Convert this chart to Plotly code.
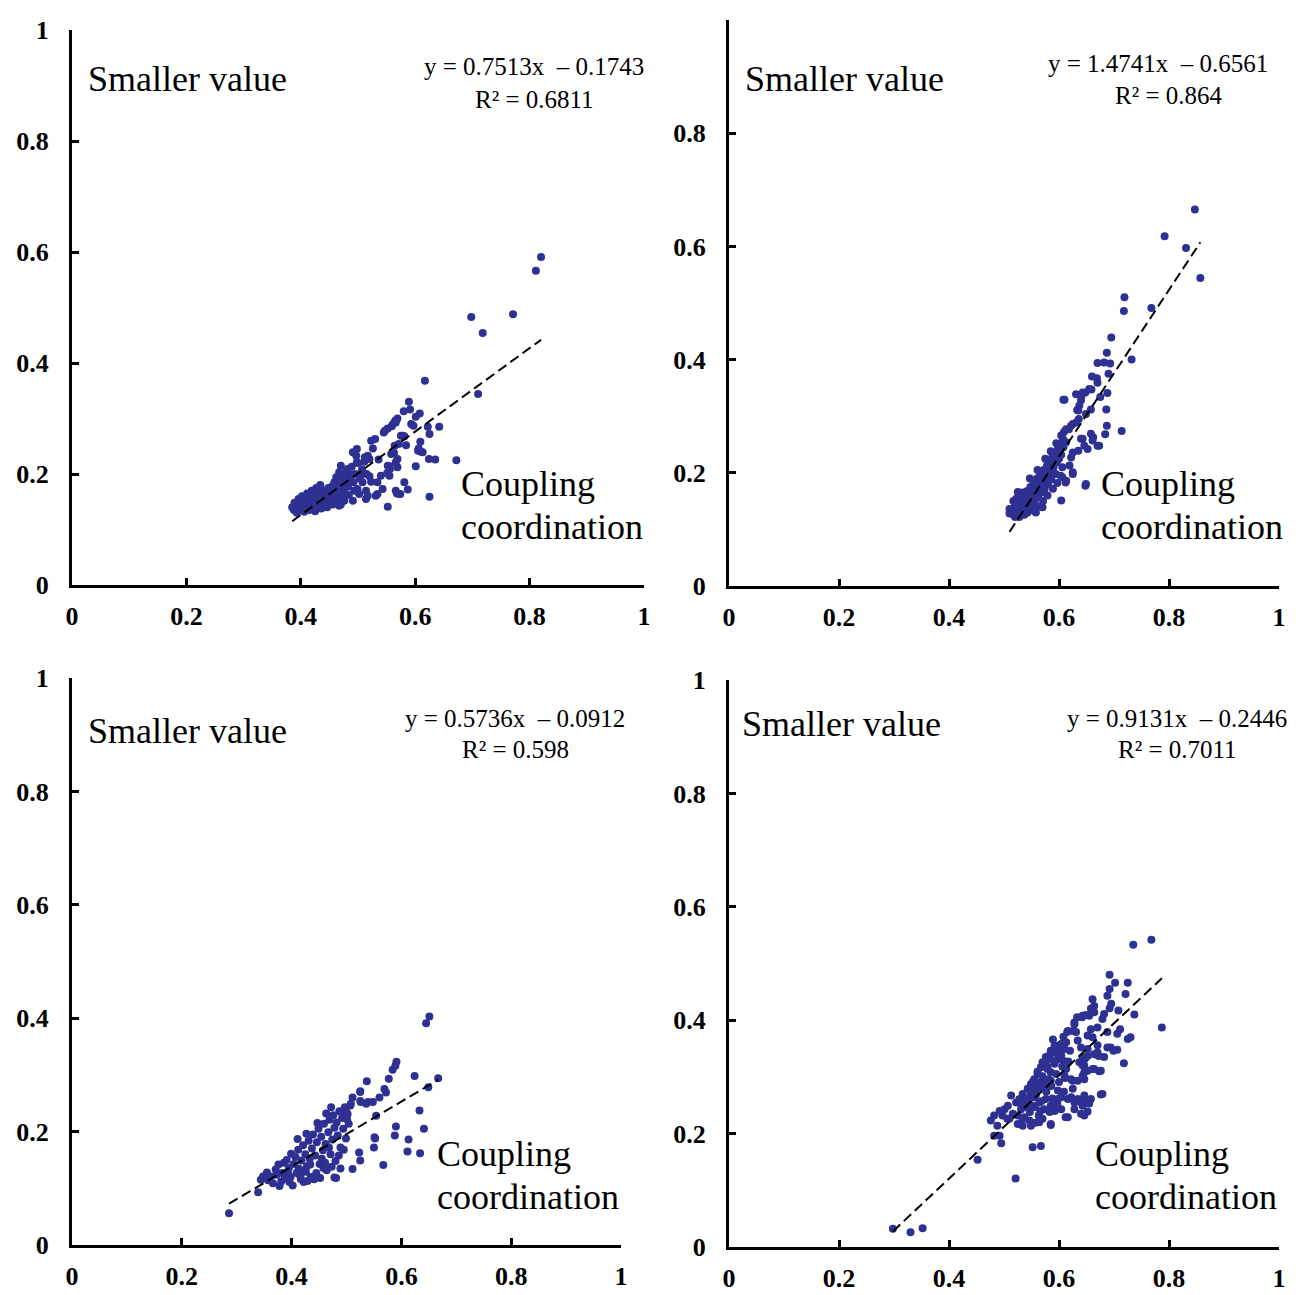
import plotly.graph_objects as go

# the page puts the plot a few pixels in from the corner, so the figure is
# made that much smaller and every reference pixel position is shifted back
OX, OY = 7, 9
W, H = 1308 - OX, 1295 - OY

# scatter points, one list of (x, y) per panel
p1_points = [
    (0.820, 0.591), (0.811, 0.566), (0.771, 0.488), (0.698, 0.483), (0.718, 0.454), (0.710, 0.344), (0.617, 0.368),
    (0.589, 0.330), (0.580, 0.313), (0.591, 0.316), (0.608, 0.309), (0.569, 0.300), (0.566, 0.293), (0.601, 0.303),
    (0.559, 0.286), (0.552, 0.282), (0.547, 0.278), (0.593, 0.290), (0.597, 0.287), (0.622, 0.285), (0.642, 0.285),
    (0.625, 0.272), (0.575, 0.269), (0.581, 0.268), (0.530, 0.263), (0.523, 0.260), (0.609, 0.258), (0.584, 0.252),
    (0.606, 0.246), (0.610, 0.240), (0.498, 0.245), (0.491, 0.239), (0.517, 0.233), (0.520, 0.227), (0.558, 0.236),
    (0.563, 0.238), (0.624, 0.227), (0.635, 0.226), (0.672, 0.225), (0.601, 0.214), (0.569, 0.227), (0.566, 0.221),
    (0.555, 0.214), (0.556, 0.209), (0.581, 0.185), (0.568, 0.165), (0.574, 0.164), (0.625, 0.159), (0.552, 0.141),
    (0.565, 0.296), (0.561, 0.290), (0.545, 0.275), (0.578, 0.269), (0.526, 0.246), (0.605, 0.242), (0.613, 0.239),
    (0.571, 0.254), (0.564, 0.251), (0.497, 0.233), (0.536, 0.226), (0.569, 0.212), (0.498, 0.221), (0.511, 0.222),
    (0.552, 0.215), (0.551, 0.202), (0.555, 0.197),
    (0.470, 0.215), (0.482, 0.209), (0.467, 0.203), (0.479, 0.202), (0.488, 0.198), (0.462, 0.194), (0.473, 0.192),
    (0.485, 0.191), (0.459, 0.185), (0.505, 0.198), (0.520, 0.196), (0.508, 0.185), (0.523, 0.186), (0.534, 0.185),
    (0.540, 0.197), (0.543, 0.173), (0.587, 0.172), (0.566, 0.170), (0.572, 0.164), (0.531, 0.161), (0.534, 0.164),
    (0.514, 0.170), (0.517, 0.161), (0.514, 0.155), (0.499, 0.173), (0.502, 0.164), (0.491, 0.152), (0.476, 0.152),
    (0.467, 0.143), (0.441, 0.146), (0.430, 0.140), (0.421, 0.137),
    (0.388, 0.135), (0.392, 0.142), (0.395, 0.138), (0.398, 0.146), (0.400, 0.135), (0.403, 0.150), (0.405, 0.141),
    (0.408, 0.155), (0.410, 0.137), (0.412, 0.147), (0.415, 0.158), (0.417, 0.143), (0.420, 0.152), (0.422, 0.163),
    (0.424, 0.139), (0.426, 0.156), (0.428, 0.147), (0.430, 0.166), (0.433, 0.152), (0.435, 0.160), (0.437, 0.143),
    (0.440, 0.170), (0.442, 0.155), (0.444, 0.163), (0.446, 0.149), (0.448, 0.175), (0.450, 0.160), (0.452, 0.168),
    (0.455, 0.178), (0.457, 0.155), (0.459, 0.185), (0.461, 0.166), (0.463, 0.172), (0.466, 0.190), (0.468, 0.160),
    (0.470, 0.180), (0.473, 0.196), (0.475, 0.170), (0.478, 0.185), (0.480, 0.205), (0.483, 0.177), (0.486, 0.195),
    (0.489, 0.213), (0.492, 0.185), (0.495, 0.200), (0.500, 0.220), (0.503, 0.192), (0.507, 0.208), (0.512, 0.230),
    (0.515, 0.200), (0.389, 0.148), (0.396, 0.155), (0.402, 0.160), (0.411, 0.165), (0.419, 0.170), (0.427, 0.175),
    (0.434, 0.180), (0.440, 0.150), (0.385, 0.140), (0.393, 0.130), (0.406, 0.132), (0.415, 0.135), (0.425, 0.133),
    (0.436, 0.138), (0.446, 0.140), (0.456, 0.145), (0.465, 0.150), (0.474, 0.158), (0.484, 0.162), (0.494, 0.170),
    (0.470, 0.145),
]

p2_points = [
    (0.847, 0.665), (0.792, 0.618), (0.831, 0.597), (0.857, 0.544), (0.719, 0.510), (0.718, 0.486), (0.768, 0.491),
    (0.695, 0.439), (0.687, 0.412), (0.732, 0.400), (0.670, 0.394), (0.682, 0.395), (0.693, 0.393), (0.690, 0.375),
    (0.660, 0.370), (0.669, 0.367), (0.670, 0.359), (0.659, 0.347), (0.648, 0.342), (0.641, 0.336), (0.688, 0.341),
    (0.675, 0.334), (0.608, 0.329), (0.640, 0.328), (0.637, 0.319), (0.633, 0.311), (0.658, 0.312), (0.686, 0.312),
    (0.649, 0.304), (0.636, 0.295), (0.625, 0.286), (0.618, 0.277), (0.609, 0.272), (0.687, 0.283), (0.714, 0.274),
    (0.684, 0.268), (0.658, 0.269), (0.662, 0.263), (0.604, 0.266), (0.607, 0.260), (0.613, 0.254), (0.640, 0.260),
    (0.646, 0.248), (0.673, 0.248), (0.652, 0.242), (0.625, 0.236), (0.622, 0.227), (0.595, 0.230), (0.585, 0.221),
    (0.579, 0.213), (0.588, 0.207), (0.619, 0.213), (0.625, 0.201), (0.649, 0.180), (0.612, 0.183), (0.606, 0.192),
    (0.576, 0.201), (0.567, 0.189), (0.561, 0.177), (0.555, 0.168), (0.549, 0.163), (0.604, 0.151), (0.558, 0.130),
    (0.570, 0.139), (0.555, 0.133), (0.537, 0.139), (0.525, 0.166), (0.522, 0.154), (0.510, 0.136),
    (0.648, 0.177), (0.625, 0.198), (0.613, 0.186), (0.631, 0.339), (0.643, 0.342), (0.655, 0.348), (0.610, 0.329),
    (0.635, 0.310), (0.631, 0.289), (0.622, 0.283), (0.613, 0.277), (0.643, 0.260), (0.635, 0.239), (0.661, 0.257),
    (0.670, 0.248),
    (0.510, 0.128), (0.515, 0.135), (0.518, 0.125), (0.520, 0.142), (0.523, 0.130), (0.525, 0.148), (0.527, 0.135),
    (0.530, 0.155), (0.532, 0.128), (0.534, 0.142), (0.536, 0.160), (0.538, 0.135), (0.540, 0.150), (0.542, 0.168),
    (0.544, 0.138), (0.546, 0.156), (0.548, 0.175), (0.550, 0.145), (0.552, 0.162), (0.554, 0.182), (0.556, 0.150),
    (0.558, 0.170), (0.560, 0.190), (0.562, 0.158), (0.564, 0.178), (0.566, 0.198), (0.568, 0.165), (0.570, 0.185),
    (0.572, 0.205), (0.574, 0.172), (0.576, 0.192), (0.578, 0.212), (0.580, 0.180), (0.582, 0.200), (0.584, 0.220),
    (0.586, 0.188), (0.588, 0.228), (0.590, 0.210), (0.592, 0.235), (0.594, 0.198), (0.596, 0.218), (0.598, 0.242),
    (0.600, 0.225), (0.602, 0.250), (0.604, 0.232), (0.606, 0.210), (0.608, 0.245), (0.528, 0.122), (0.537, 0.126),
    (0.543, 0.130), (0.551, 0.135), (0.517, 0.150), (0.533, 0.165), (0.547, 0.190), (0.561, 0.205), (0.575, 0.225),
    (0.585, 0.238), (0.595, 0.252), (0.563, 0.140), (0.571, 0.150), (0.579, 0.160), (0.589, 0.172), (0.597, 0.182),
    (0.603, 0.195), (0.520, 0.122), (0.531, 0.145), (0.557, 0.140),
]

p3_points = [
    (0.651, 0.403), (0.645, 0.391), (0.591, 0.323), (0.589, 0.316), (0.584, 0.309), (0.624, 0.298), (0.667, 0.294),
    (0.577, 0.293), (0.537, 0.289), (0.569, 0.275), (0.572, 0.269), (0.525, 0.271), (0.649, 0.278), (0.560, 0.260),
    (0.548, 0.252), (0.536, 0.249), (0.526, 0.252), (0.511, 0.260), (0.633, 0.237), (0.554, 0.228), (0.590, 0.209),
    (0.588, 0.193), (0.551, 0.190), (0.550, 0.172), (0.613, 0.186), (0.611, 0.165), (0.634, 0.162), (0.641, 0.205),
    (0.567, 0.141), (0.523, 0.163), (0.525, 0.149), (0.511, 0.134), (0.478, 0.119), (0.344, 0.115), (0.286, 0.056),
    (0.339, 0.093), (0.525, 0.270), (0.508, 0.249), (0.525, 0.254), (0.539, 0.252), (0.499, 0.237), (0.493, 0.231),
    (0.501, 0.222), (0.552, 0.188), (0.489, 0.135), (0.481, 0.118),
    (0.362, 0.121), (0.357, 0.114), (0.371, 0.133), (0.366, 0.109), (0.383, 0.127), (0.376, 0.142), (0.391, 0.150),
    (0.388, 0.118), (0.395, 0.136), (0.399, 0.161), (0.381, 0.112), (0.373, 0.124), (0.393, 0.128), (0.386, 0.145),
    (0.404, 0.143), (0.409, 0.127), (0.412, 0.168), (0.407, 0.155), (0.418, 0.149), (0.421, 0.176), (0.416, 0.121),
    (0.425, 0.160), (0.428, 0.139), (0.431, 0.184), (0.433, 0.152), (0.426, 0.129), (0.437, 0.170), (0.439, 0.195),
    (0.435, 0.120), (0.413, 0.135), (0.422, 0.111),
    (0.443, 0.158), (0.446, 0.181), (0.449, 0.205), (0.451, 0.143), (0.454, 0.191), (0.457, 0.167), (0.459, 0.214),
    (0.462, 0.178), (0.464, 0.132), (0.467, 0.199), (0.469, 0.221), (0.471, 0.160), (0.474, 0.186), (0.476, 0.229),
    (0.478, 0.207), (0.445, 0.127), (0.455, 0.152), (0.468, 0.172), (0.452, 0.118), (0.461, 0.145),
    (0.482, 0.216), (0.484, 0.193), (0.487, 0.236), (0.489, 0.172), (0.492, 0.224), (0.494, 0.205), (0.497, 0.243),
    (0.499, 0.188), (0.502, 0.231), (0.504, 0.214), (0.507, 0.246), (0.486, 0.158), (0.495, 0.168), (0.480, 0.148),
    (0.396, 0.111), (0.402, 0.105), (0.417, 0.116), (0.429, 0.113), (0.441, 0.116), (0.348, 0.121), (0.355, 0.128),
    (0.378, 0.104), (0.411, 0.187), (0.427, 0.196), (0.447, 0.215), (0.463, 0.232), (0.472, 0.243), (0.434, 0.142),
    (0.458, 0.136), (0.473, 0.138), (0.398, 0.120), (0.419, 0.131),
]

p4_points = [
    (0.768, 0.542), (0.735, 0.533), (0.692, 0.480), (0.702, 0.466), (0.725, 0.466), (0.692, 0.455), (0.721, 0.446),
    (0.661, 0.437), (0.688, 0.443), (0.695, 0.429), (0.692, 0.421), (0.664, 0.425), (0.658, 0.420), (0.664, 0.414),
    (0.655, 0.408), (0.708, 0.417), (0.737, 0.410), (0.633, 0.405), (0.642, 0.405), (0.682, 0.411), (0.679, 0.402),
    (0.787, 0.387), (0.711, 0.384), (0.706, 0.376), (0.628, 0.393), (0.625, 0.381), (0.615, 0.379), (0.670, 0.387),
    (0.658, 0.384), (0.661, 0.370), (0.652, 0.373), (0.730, 0.370), (0.725, 0.367), (0.688, 0.379), (0.634, 0.364),
    (0.640, 0.352), (0.607, 0.358), (0.598, 0.355), (0.592, 0.349), (0.587, 0.343), (0.581, 0.337), (0.670, 0.356),
    (0.694, 0.352), (0.699, 0.346), (0.706, 0.348), (0.652, 0.337), (0.647, 0.332), (0.643, 0.320), (0.672, 0.337),
    (0.718, 0.324), (0.661, 0.314), (0.673, 0.310), (0.625, 0.293), (0.610, 0.302), (0.646, 0.296), (0.646, 0.308),
    (0.676, 0.269), (0.622, 0.264), (0.628, 0.255), (0.640, 0.255), (0.655, 0.253), (0.640, 0.235), (0.612, 0.229),
    (0.652, 0.239), (0.604, 0.264), (0.595, 0.249), (0.592, 0.240), (0.585, 0.215), (0.570, 0.226), (0.564, 0.220),
    (0.552, 0.176), (0.567, 0.178), (0.521, 0.121), (0.452, 0.154), (0.492, 0.196), (0.495, 0.183), (0.482, 0.196),
    (0.476, 0.223), (0.488, 0.214), (0.497, 0.232), (0.506, 0.226), (0.298, 0.032), (0.330, 0.026), (0.352, 0.033),
    (0.643, 0.408), (0.649, 0.409), (0.628, 0.396), (0.616, 0.381), (0.631, 0.379), (0.604, 0.358), (0.592, 0.355),
    (0.585, 0.346), (0.598, 0.349), (0.610, 0.349), (0.688, 0.352), (0.576, 0.335), (0.570, 0.326), (0.567, 0.317),
    (0.579, 0.314), (0.585, 0.308), (0.592, 0.323), (0.598, 0.332), (0.607, 0.329), (0.613, 0.314), (0.561, 0.305),
    (0.555, 0.296), (0.549, 0.287), (0.564, 0.290), (0.573, 0.296), (0.543, 0.279), (0.552, 0.276), (0.561, 0.280),
    (0.570, 0.282), (0.579, 0.286), (0.585, 0.293), (0.622, 0.296), (0.625, 0.279), (0.616, 0.261), (0.598, 0.261),
    (0.604, 0.243), (0.585, 0.249), (0.576, 0.261), (0.534, 0.270), (0.528, 0.261), (0.522, 0.255), (0.537, 0.255),
    (0.546, 0.261), (0.555, 0.264), (0.531, 0.243), (0.543, 0.246), (0.552, 0.249), (0.564, 0.255), (0.513, 0.267),
    (0.507, 0.249), (0.501, 0.243), (0.492, 0.240), (0.482, 0.232), (0.516, 0.235), (0.510, 0.226), (0.525, 0.232),
    (0.534, 0.226), (0.546, 0.223), (0.549, 0.214), (0.534, 0.214), (0.525, 0.217), (0.585, 0.217), (0.616, 0.229),
    (0.646, 0.232), (0.628, 0.243), (0.643, 0.249), (0.649, 0.255), (0.634, 0.261), (0.646, 0.267), (0.658, 0.261),
    (0.679, 0.270), (0.670, 0.343), (0.682, 0.335), (0.652, 0.349), (0.664, 0.340), (0.643, 0.335), (0.637, 0.326),
    (0.646, 0.320), (0.652, 0.311), (0.643, 0.302), (0.634, 0.293), (0.664, 0.314), (0.676, 0.311),
    (0.541, 0.262), (0.547, 0.238), (0.552, 0.291), (0.549, 0.271), (0.556, 0.247), (0.561, 0.309), (0.558, 0.268),
    (0.565, 0.283), (0.563, 0.232), (0.570, 0.301), (0.568, 0.257), (0.574, 0.322), (0.577, 0.274), (0.573, 0.243),
    (0.581, 0.296), (0.584, 0.331), (0.579, 0.318), (0.588, 0.262), (0.591, 0.343), (0.586, 0.284), (0.595, 0.305),
    (0.598, 0.276), (0.593, 0.327), (0.602, 0.352), (0.600, 0.291), (0.606, 0.318), (0.609, 0.274), (0.604, 0.338),
    (0.613, 0.361), (0.611, 0.298), (0.617, 0.327), (0.620, 0.346), (0.557, 0.219), (0.566, 0.240), (0.583, 0.238),
    (0.597, 0.252), (0.589, 0.366), (0.608, 0.371), (0.532, 0.250), (0.537, 0.229),
]

slopes = [0.7513, 1.4741, 0.5736, 0.9131]
intercepts = [-0.1743, -0.6561, -0.0912, -0.2446]
r2_values = ["0.6811", "0.864", "0.598", "0.7011"]
tick_vals = [0, 0.2, 0.4, 0.6, 0.8, 1]
tick_text = ["0", "0.2", "0.4", "0.6", "0.8", "1"]

all_points = [p1_points, p2_points, p3_points, p4_points]

# panel frames in reference pixels: left, right, top, bottom
boxes = [(71, 643, 31, 586), (728, 1278, 21, 587), (71, 620, 679, 1246), (728, 1278, 681, 1248)]
# text spots in reference pixels: "Smaller value" (left), equation (centre), R2 (centre), "Coupling" (left)
text_spots = [
    ((85, 80), (533, 68), (533, 100), (458, 485)),
    ((742, 80), (1157, 64), (1168, 96), (1098, 485)),
    ((85, 732), (514, 719), (514, 750), (434, 1155)),
    ((739, 725), (1176, 719), (1176, 750), (1092, 1155)),
]

dot_color = "#2E3192"
serif = "Liberation Serif"


def px(x):
    return (x - OX) / W


def py(y):
    return 1 - (y - OY) / H


fig = go.Figure()
annotations = []

for i, pts in enumerate(all_points):
    n = "" if i == 0 else str(i + 1)
    xs = [p[0] for p in pts]
    ys = [p[1] for p in pts]
    fig.add_trace(go.Scatter(
        x=xs, y=ys, mode="markers", xaxis="x" + n, yaxis="y" + n,
        marker=dict(color=dot_color, size=8, line=dict(width=0)),
        showlegend=False, cliponaxis=False,
    ))
    # trend line over the data's x span, from the printed equation
    x0, x1 = min(xs), max(xs)
    fig.add_trace(go.Scatter(
        x=[x0, x1], y=[slopes[i] * x0 + intercepts[i], slopes[i] * x1 + intercepts[i]],
        mode="lines", xaxis="x" + n, yaxis="y" + n,
        line=dict(color="black", width=2, dash="10px,5px"),
        showlegend=False,
    ))

    left, right, top, bottom = boxes[i]
    axis_common = dict(
        range=[0, 1], tickvals=tick_vals, ticktext=tick_text, automargin=False,
        showline=True, linecolor="black", linewidth=3, mirror=False,
        ticks="inside", ticklen=7, tickwidth=2.5, tickcolor="black",
        showgrid=False, zeroline=False,
        tickfont=dict(family=serif, size=26, color="black", weight="bold"),
    )
    fig.layout["xaxis" + n] = dict(
        domain=[px(left), px(right)], anchor="y" + n,
        ticklabelstandoff=6, **axis_common)
    fig.layout["yaxis" + n] = dict(
        domain=[py(bottom), py(top)], anchor="x" + n,
        ticklabelstandoff=15, **axis_common)

    sv, eq, r2, cp = text_spots[i]
    eq_text = f"y = {slopes[i]}x  \u2013 {abs(intercepts[i])}"
    annotations += [
        dict(text="Smaller value", x=px(sv[0]), y=py(sv[1]), xanchor="left", yanchor="middle",
             font=dict(family=serif, size=36, color="black")),
        dict(text=eq_text, x=px(eq[0]), y=py(eq[1]), xanchor="center", yanchor="middle",
             font=dict(family=serif, size=25, color="black")),
        dict(text=f"R\u00b2 = {r2_values[i]}", x=px(r2[0]), y=py(r2[1]), xanchor="center",
             yanchor="middle", font=dict(family=serif, size=25, color="black")),
        dict(text="Coupling", x=px(cp[0]), y=py(cp[1]), xanchor="left", yanchor="middle",
             font=dict(family=serif, size=36, color="black")),
        dict(text="coordination", x=px(cp[0]), y=py(cp[1] + 43), xanchor="left", yanchor="middle",
             font=dict(family=serif, size=36, color="black")),
    ]

for a in annotations:
    a.update(xref="paper", yref="paper", showarrow=False)

fig.update_layout(
    width=W, height=H,
    margin=dict(l=0, r=0, t=0, b=0),
    paper_bgcolor="white", plot_bgcolor="white",
    annotations=annotations,
)

fig.write_html("out.html")
